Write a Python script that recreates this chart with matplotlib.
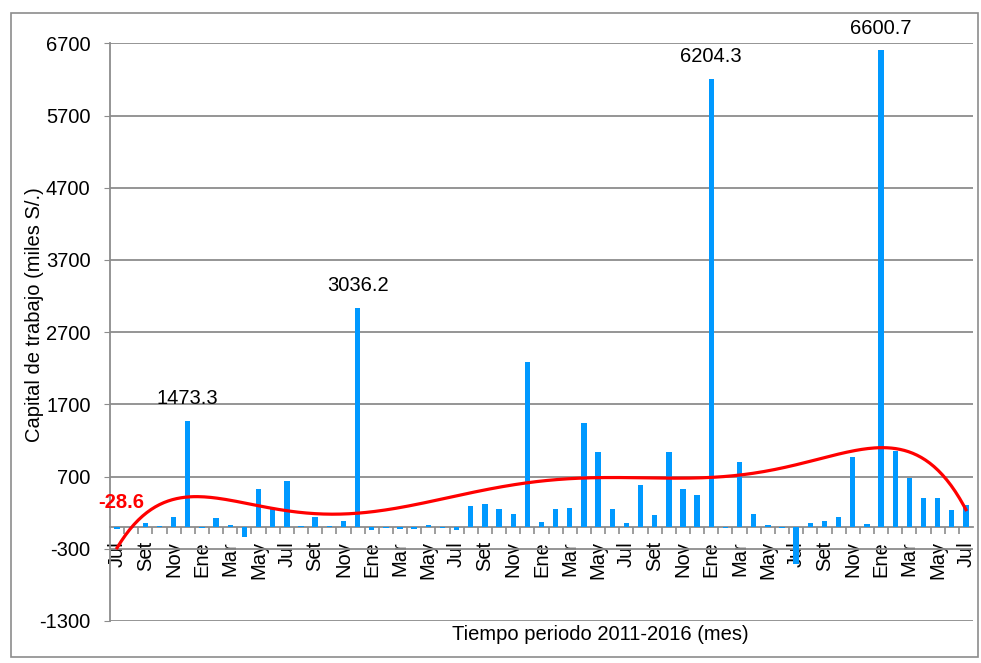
"""
Capital de trabajo mensual, periodo 2011-2016, con linea de tendencia.
"""

from matplotlib import pyplot
from matplotlib.patches import Rectangle
import numpy

# monthly values, Jul 2011 .. Jul 2016 (miles S/.)
capital = [
    -28.6, -15, 55, 20, 138, 1473.3, -15, 129, 32, -130, 530, 250,
    632, 20, 134, 20, 78, 3036.2, -46, -10, -23, -20, 28, -15,
    -46, 295, 318, 253, 184, 2290, 65, 245, 267, 1448, 1042, 245,
    51, 586, 170, 1042, 525, 438, 6204.3, -15, 904, 180, 28, -15,
    -515, 51, 78, 134, 973, 42, 6600.7, 1056, 687, 401, 406, 231,
    309,
]
tick_labels = ['Jul', 'Set', 'Nov', 'Ene', 'Mar', 'May'] * 5 + ['Jul']
labelled = [5, 17, 42, 54]          # bars with a value shown on top
y_ticks = list(range(-1300, 6701, 1000))

BLUE = '#0099FF'
GRAY = '#8C8C8C'

pyplot.rcParams['font.family'] = ['Liberation Sans', 'DejaVu Sans']
pyplot.rcParams['axes.unicode_minus'] = False

fig = pyplot.figure(figsize=(9.81, 6.63), dpi=100)
fig.patches.append(Rectangle((11 / 981, 1 - 657 / 663), 967 / 981, 644 / 663,
                             transform=fig.transFigure, fill=False,
                             edgecolor=GRAY, linewidth=1.2))
ax = fig.add_axes([110 / 981, 1 - 621 / 663, 863 / 981, 577.7 / 663])

# spines first: moving the bottom spine resets the tick settings
for side in ('top', 'right'):
    ax.spines[side].set_visible(False)
ax.spines['bottom'].set_position(('data', 0))
ax.spines['bottom'].set_color(GRAY)
ax.spines['bottom'].set_linewidth(1.3)
ax.spines['left'].set_color(GRAY)
ax.spines['left'].set_linewidth(1.3)

ind = numpy.arange(len(capital))
ax.bar(ind, capital, 0.38, color=BLUE, zorder=3)

# polynomial trend line (order 6) as in the spreadsheet
coef = numpy.polyfit(ind + 1, capital, 6)
xs = numpy.linspace(0, len(capital) - 1, 400)
ax.plot(xs, numpy.polyval(coef, xs + 1), color='red', linewidth=2.3,
        zorder=4)

for i in labelled:
    ax.annotate(f'{capital[i]:.1f}', (i, capital[i]), xytext=(0, 16),
                textcoords='offset points', ha='center', va='center',
                fontsize=14.5, zorder=5)
ax.annotate(f'{capital[0]:.1f}', (0, 0), xytext=(3, 18),
            textcoords='offset points', ha='center', va='center',
            fontsize=14.5, fontweight='bold', color='red', zorder=5,
            annotation_clip=False)

ax.set_xlim(-0.5, len(capital) - 0.5)
ax.set_ylim(-1300, 6700)
ax.set_yticks(y_ticks)
ax.tick_params(axis='y', labelsize=14.5, length=4, color=GRAY, pad=10)
ax.yaxis.grid(True, color=GRAY, linewidth=1.3, zorder=0)

ax.set_xticks(ind[::2])
ax.set_xticklabels(tick_labels, rotation=90, fontsize=14.5, va='top')
ax.set_xticks(ind[:-1] + 0.5, minor=True)
ax.tick_params(axis='x', which='major', length=0, pad=10)
ax.tick_params(axis='x', which='minor', length=5, color=GRAY, width=1.2)

fig.text(35 / 981, 1 - 315 / 663, 'Capital de trabajo (miles S/.)',
         rotation=90, ha='center', va='center', fontsize=14.5)
fig.text(600 / 981, 1 - 634 / 663, 'Tiempo periodo 2011-2016 (mes)',
         ha='center', va='center', fontsize=14.5)

fig.savefig('out.png', dpi=100)
